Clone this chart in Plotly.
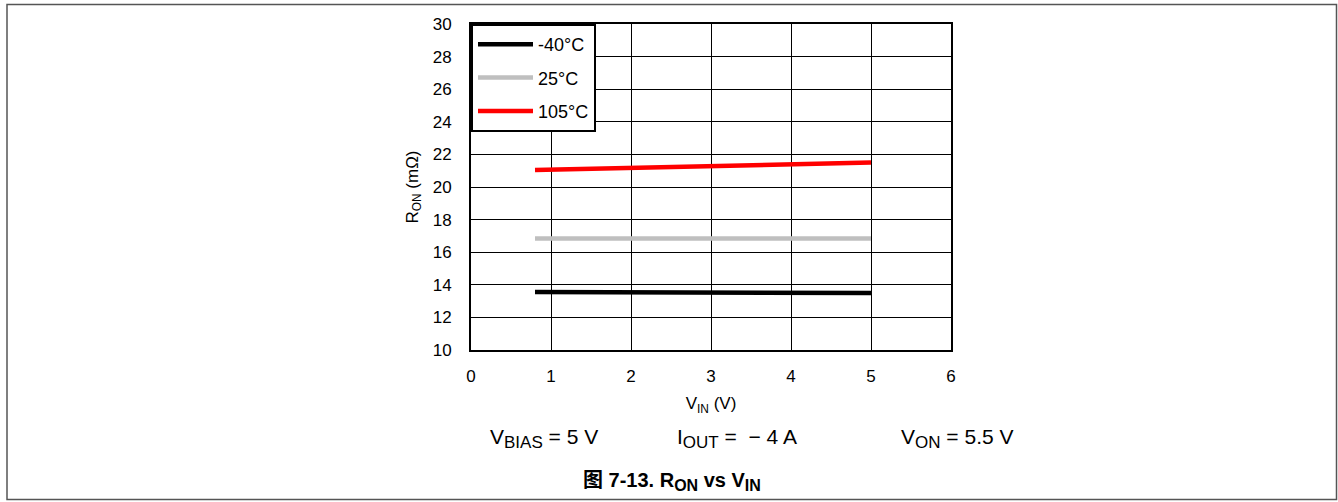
import plotly.graph_objects as go

vin = [0.8, 1.0, 1.5, 2.0, 2.5, 3.0, 3.5, 4.0, 4.5, 5.0]
ron_m40 = [13.56, 13.56, 13.55, 13.54, 13.53, 13.52, 13.52, 13.51, 13.51, 13.50]
ron_25 = [16.84, 16.84, 16.84, 16.84, 16.84, 16.84, 16.84, 16.84, 16.84, 16.84]
ron_105 = [21.05, 21.07, 21.12, 21.17, 21.22, 21.27, 21.32, 21.37, 21.43, 21.50]
series_names = ["-40°C", "25°C", "105°C"]
series_colors = ["#000000", "#BFBFBF", "#FF0000"]
x_ticks = [0, 1, 2, 3, 4, 5, 6]
y_ticks = [10, 12, 14, 16, 18, 20, 22, 24, 26, 28, 30]

FONT = "Liberation Sans, Arial, sans-serif"

fig = go.Figure()
for i, (name, vals, col) in enumerate(zip(series_names, [ron_m40, ron_25, ron_105], series_colors)):
    fig.add_trace(go.Scatter(x=vin, y=vals, mode="lines", name=name,
                             legendgroup=f"g{i}",
                             line=dict(color=col, width=4.5)))

L, R, T, B = 471, 387, 24, 152
W, H = 1338, 502
pw, ph = W - L - R, H - T - B

def px(x):
    return (x - L) / pw

def py(y):
    return (H - B - y) / ph

def sub(s, size):
    return f"<sub><span style='font-size:{size}px'>{s}</span></sub>"

fig.update_layout(
    width=W, height=H,
    margin=dict(l=L, r=R, t=T, b=B),
    paper_bgcolor="white", plot_bgcolor="white",
    font=dict(family=FONT, size=17, color="black"),
    showlegend=True,
    legend=dict(x=0, y=1, xanchor="left", yanchor="top",
                bgcolor="white", bordercolor="black", borderwidth=2,
                font=dict(size=18), tracegroupgap=7, itemwidth=55),
    xaxis=dict(range=[0, 6], tickvals=x_ticks, showgrid=True, gridcolor="black", gridwidth=1,
               showline=True, linecolor="black", linewidth=2, mirror=True, ticks="",
               zeroline=False, tickfont=dict(size=17), ticklabelstandoff=10,
               title=dict(text="V<sub>IN</sub> (V)", font=dict(size=17), standoff=12)),
    yaxis=dict(range=[10, 30], tickvals=y_ticks, showgrid=True, gridcolor="black", gridwidth=1,
               showline=True, linecolor="black", linewidth=2, mirror=True, ticks="",
               zeroline=False, tickfont=dict(size=17), ticklabelstandoff=14,
               title=dict(text="R<sub>ON</sub> (mΩ)", font=dict(size=17), standoff=10)),
)

# outer frame
fig.add_shape(type="rect", xref="paper", yref="paper",
              x0=px(7), x1=px(1336.5), y0=py(499.5), y1=py(4.5),
              line=dict(color="#555555", width=1.5), layer="below")

notes = [("V" + sub("BIAS", 17) + " = 5 V", 544),
         ("I" + sub("OUT", 17) + " =  \u2212 4 A", 737),
         ("V" + sub("ON", 17) + " = 5.5 V", 957)]
for text, xc in notes:
    fig.add_annotation(text=text, xref="paper", yref="paper", x=px(xc), y=py(438),
                       showarrow=False, xanchor="center", yanchor="middle",
                       font=dict(size=21, family=FONT))

fig.add_annotation(text="<b>图 7-13. R" + sub("ON", 16) + " vs V" + sub("IN", 16) + "</b>",
                   xref="paper", yref="paper",
                   x=px(672), y=py(481), showarrow=False, xanchor="center", yanchor="middle",
                   font=dict(size=20, family="Liberation Sans, Noto Sans CJK SC, sans-serif"))

fig.write_html("out.html")
